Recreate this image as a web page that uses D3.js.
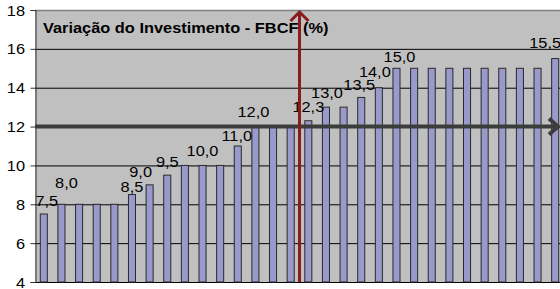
<!DOCTYPE html>
<html>
<head>
<meta charset="utf-8">
<script src="https://cdn.jsdelivr.net/npm/d3@7"></script>
<style>
  body { margin: 0; background: #fff; }
  svg { display: block; font-family: "Liberation Sans", Arial, sans-serif; }
</style>
</head>
<body>
<div id="chart"></div>
<script>
"use strict";

// chart data
const periods = d3.range(1, 31);
const values = [7.5, 8.0, 8.0, 8.0, 8.0, 8.5, 9.0, 9.5, 10.0, 10.0,
  10.0, 11.0, 12.0, 12.0, 12.0, 12.3, 13.0, 13.0, 13.5, 14.0,
  15.0, 15.0, 15.0, 15.0, 15.0, 15.0, 15.0, 15.0, 15.0, 15.5];
const labelledBars = [1, 2, 6, 7, 8, 10, 12, 13, 16, 17, 19, 20, 21, 30];
const yTicks = [4, 6, 8, 10, 12, 14, 16, 18];
const referenceLevel = 12;
const referencePeriod = 15.5;
const title = "Variação do Investimento - FBCF (%)";

// hand placed label offsets, as in the original sheet
const labelNudge = {
  1: [3, -8], 2: [5, -16], 6: [0, -3], 7: [-9, -8], 8: [0, -8], 10: [0, -9],
  12: [-1, -5], 13: [-2, -10], 16: [0, -9], 17: [1, -9], 19: [-2, -7],
  20: [-4, -11], 21: [3, -6], 30: [-10, -11]
};

const width = 560, height = 289,
  margin = {top: 10, left: 35, bottom: 7},
  plotRight = 564,
  stretch = 1.17
;

let svg = d3.select("#chart").append("svg")
  .attr("width", width)
  .attr("height", height);

let x = d3.scaleBand()
  .domain(periods)
  .range([margin.left, plotRight])
  .paddingInner(0.6)
  .paddingOuter(0.3);

let y = d3.scaleLinear()
  .domain([4, 18])
  .range([height - margin.bottom, margin.top]);

let fmt = function(v) { return d3.format(".1f")(v).replace(".", ","); };

function stretchedText(sel, px, py) {
  return sel.append("text")
    .attr("transform", "translate(" + px + "," + py + ") scale(" + stretch + ",1)");
}

// plot area
svg.append("rect")
  .attr("x", margin.left)
  .attr("y", y(18))
  .attr("width", plotRight - margin.left)
  .attr("height", y(4) - y(18))
  .attr("fill", "#c0c0c0");

svg.append("g")
  .selectAll("line")
  .data(yTicks.filter(function(t) { return t < 18; }))
  .enter().append("line")
    .attr("x1", margin.left)
    .attr("x2", plotRight)
    .attr("y1", function(d) { return y(d) + 0.5; })
    .attr("y2", function(d) { return y(d) + 0.5; })
    .attr("stroke", "#000")
    .attr("stroke-width", 1);

svg.append("line")
  .attr("x1", margin.left).attr("x2", plotRight)
  .attr("y1", y(18) + 0.5).attr("y2", y(18) + 0.5)
  .attr("stroke", "#808080")
  .attr("stroke-width", 1.5);

// y axis
let yAxis = svg.append("g")
  .attr("transform", "translate(" + (margin.left + 0.5) + ",0)")
  .call(d3.axisLeft(y).tickValues(yTicks).tickSize(5).tickPadding(6));
yAxis.select(".domain").attr("stroke", "#333");
yAxis.selectAll(".tick line").attr("stroke", "#333");
yAxis.selectAll(".tick text").remove();

yAxis.selectAll(".tick").each(function(d) {
  stretchedText(d3.select(this), -10.5, 5)
    .attr("text-anchor", "end")
    .attr("font-size", 14)
    .attr("fill", "#000")
    .text(d);
});

svg.append("g")
  .selectAll("rect")
  .data(values)
  .enter().append("rect")
    .attr("x", function(d, i) { return x(periods[i]); })
    .attr("y", function(d) { return y(d); })
    .attr("width", x.bandwidth())
    .attr("height", function(d) { return y(4) - y(d); })
    .attr("fill", "#9999cc")
    .attr("stroke", "#2a2a2a")
    .attr("stroke-width", 1);

// value labels
let labels = svg.append("g");
labelledBars.forEach(function(p) {
  let v = values[p - 1],
    n = labelNudge[p] || [0, -8],
    cx = x(p) + x.bandwidth() / 2 + n[0],
    cy = y(v) + n[1]
  ;
  stretchedText(labels, cx, cy)
    .attr("text-anchor", "middle")
    .attr("font-size", 14)
    .attr("fill", "#000")
    .text(fmt(v));
});

// title
stretchedText(svg, 43, 33)
  .attr("font-size", 14)
  .attr("font-weight", "bold")
  .attr("fill", "#000")
  .text(title);

// horizontal reference arrow at 12
let hy = y(referenceLevel);
svg.append("line")
  .attr("x1", margin.left).attr("x2", 557)
  .attr("y1", hy).attr("y2", hy)
  .attr("stroke", "#3c3c3c")
  .attr("stroke-width", 4);
svg.append("path")
  .attr("d", "M549," + (hy - 8) + "L558," + hy + "L549," + (hy + 8))
  .attr("fill", "none")
  .attr("stroke", "#3c3c3c")
  .attr("stroke-width", 4)
  .attr("stroke-linejoin", "miter");

// vertical reference arrow
let vx = x(Math.floor(referencePeriod)) + x.step() * (referencePeriod % 1) + x.bandwidth() / 2;
svg.append("line")
  .attr("x1", vx).attr("x2", vx)
  .attr("y1", y(4)).attr("y2", y(18) + 2)
  .attr("stroke", "#8b1a1a")
  .attr("stroke-width", 3);
svg.append("path")
  .attr("d", "M" + (vx - 9) + "," + (y(18) + 11) + "L" + vx + "," + (y(18) + 2) + "L" + (vx + 9) + "," + (y(18) + 11))
  .attr("fill", "none")
  .attr("stroke", "#8b1a1a")
  .attr("stroke-width", 3);
</script>
</body>
</html>
